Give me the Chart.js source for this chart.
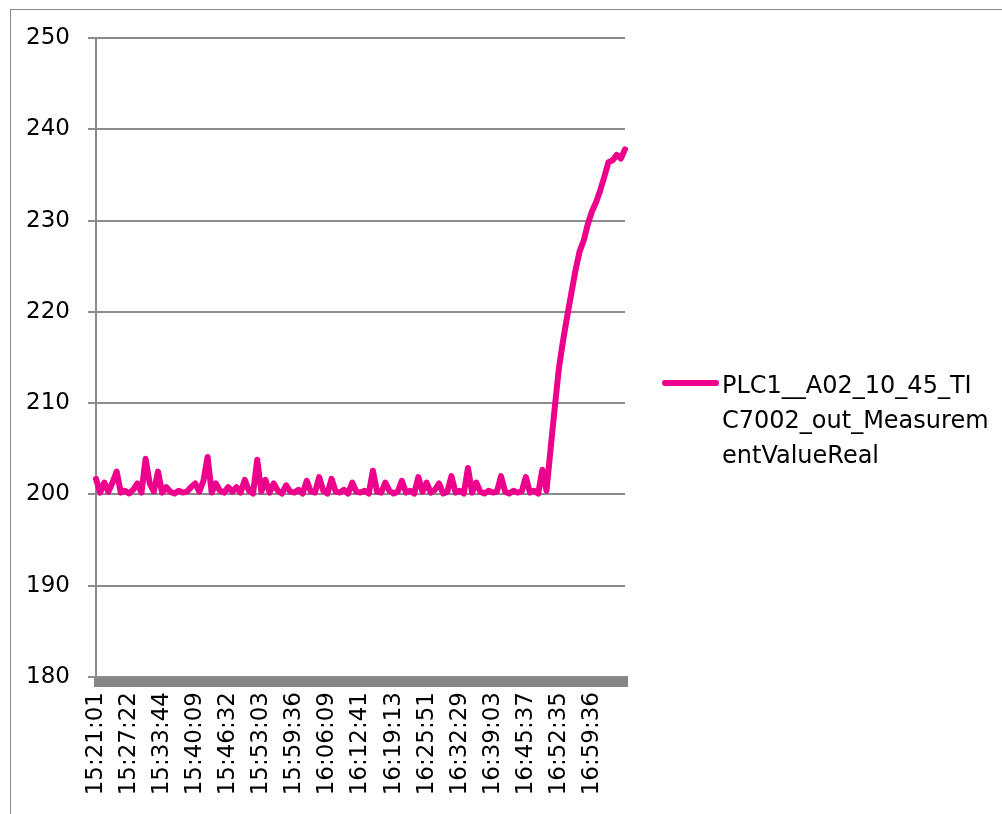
<!DOCTYPE html>
<html>
<head>
<meta charset="utf-8">
<script src="https://cdn.jsdelivr.net/npm/chart.js@4.4.1/dist/chart.umd.min.js"></script>
<style>
  html, body { margin: 0; padding: 0; background: #fff; overflow: hidden; }
  #frame { position: absolute; left: 10px; top: 9px; width: 1100px; height: 900px; border-left: 1px solid #8c8c8c; border-top: 1px solid #8c8c8c; }
  canvas { position: absolute; left: 0; top: 0; }
</style>
</head>
<body>
<div id="frame"></div>
<canvas id="tempChart" width="1002" height="814"></canvas>
<script>
// sample timestamps (one per category)
const times = [
    '15:21:01', '15:21:48', '15:22:36', '15:23:24', '15:24:11', '15:24:59', '15:25:47', '15:26:34',
    '15:27:22', '15:28:10', '15:28:58', '15:29:45', '15:30:33', '15:31:21', '15:32:08', '15:32:56',
    '15:33:44', '15:34:32', '15:35:20', '15:36:08', '15:36:56', '15:37:44', '15:38:32', '15:39:20',
    '15:40:09', '15:40:57', '15:41:45', '15:42:33', '15:43:20', '15:44:08', '15:44:56', '15:45:44',
    '15:46:32', '15:47:21', '15:48:10', '15:48:59', '15:49:48', '15:50:37', '15:51:26', '15:52:15',
    '15:53:03', '15:53:52', '15:54:41', '15:55:30', '15:56:19', '15:57:08', '15:57:57', '15:58:46',
    '15:59:36', '16:00:25', '16:01:14', '16:02:03', '16:02:52', '16:03:41', '16:04:30', '16:05:19',
    '16:06:09', '16:06:58', '16:07:47', '16:08:36', '16:09:25', '16:10:14', '16:11:03', '16:11:52',
    '16:12:41', '16:13:30', '16:14:19', '16:15:08', '16:15:57', '16:16:46', '16:17:35', '16:18:24',
    '16:19:13', '16:20:03', '16:20:53', '16:21:42', '16:22:32', '16:23:22', '16:24:11', '16:25:01',
    '16:25:51', '16:26:41', '16:27:31', '16:28:20', '16:29:10', '16:30:00', '16:30:49', '16:31:39',
    '16:32:29', '16:33:18', '16:34:07', '16:34:57', '16:35:46', '16:36:35', '16:37:25', '16:38:14',
    '16:39:03', '16:39:52', '16:40:41', '16:41:31', '16:42:20', '16:43:09', '16:43:59', '16:44:48',
    '16:45:37', '16:46:29', '16:47:21', '16:48:13', '16:49:06', '16:49:58', '16:50:50', '16:51:42',
    '16:52:35', '16:53:28', '16:54:20', '16:55:13', '16:56:05', '16:56:58', '16:57:50', '16:58:43',
    '16:59:36', '17:00:29', '17:01:22', '17:02:15', '17:03:08', '17:04:01', '17:04:54', '17:05:47',
    '17:06:40'
];

const tempValues = [
    201.7, 200.2, 201.3, 200.3, 201.3, 202.5, 200.2, 200.4, 200.1, 200.5,
    201.2, 200.2, 203.9, 201.2, 200.3, 202.5, 200.2, 200.8, 200.3, 200.1,
    200.4, 200.2, 200.3, 200.8, 201.2, 200.3, 201.5, 204.1, 200.2, 201.2,
    200.4, 200.2, 200.8, 200.3, 200.8, 200.2, 201.6, 200.4, 200.1, 203.8,
    200.3, 201.6, 200.2, 201.2, 200.4, 200.1, 201.0, 200.3, 200.2, 200.5,
    200.1, 201.5, 200.3, 200.2, 201.9, 200.4, 200.1, 201.7, 200.3, 200.2,
    200.5, 200.1, 201.3, 200.3, 200.2, 200.4, 200.1, 202.6, 200.3, 200.2,
    201.3, 200.4, 200.1, 200.3, 201.5, 200.2, 200.4, 200.1, 201.9, 200.3,
    201.3, 200.2, 200.5, 201.2, 200.1, 200.3, 202.0, 200.2, 200.4, 200.1,
    202.9, 200.2, 201.3, 200.3, 200.1, 200.4, 200.2, 200.3, 202.0, 200.3,
    200.1, 200.4, 200.2, 200.3, 201.9, 200.2, 200.4, 200.1, 202.7, 200.4,
    205.0, 209.5, 213.8, 216.8, 219.5, 222.0, 224.5, 226.6, 227.8, 229.6,
    231.0, 232.0, 233.3, 234.8, 236.4, 236.6, 237.2, 236.8, 237.8
];

const seriesName = 'PLC1__A02_10_45_TIC7002_out_MeasurementValueReal';
const yMin = 180;
const yMax = 250;
const yStep = 10;
const labelEvery = 8;
const labelCount = 16;   // the reference shows 16 time labels, the last one 16:59:36

const tickFont = { family: 'DejaVu Sans', size: 23 };
const gridGray = '#8c8c8c';

// legend on the right, wrapped over three lines like the original
const sideLegend = {
    id: 'sideLegend',
    afterDraw(chart) {
        const ctx = chart.ctx;
        const ds = chart.data.datasets[0];
        const lines = [ds.label.slice(0, 18), ds.label.slice(18, 36), ds.label.slice(36)];
        ctx.save();
        ctx.strokeStyle = ds.borderColor;
        ctx.lineWidth = 6;
        ctx.lineCap = 'round';
        ctx.beginPath();
        ctx.moveTo(665, 383);
        ctx.lineTo(716, 383);
        ctx.stroke();
        ctx.fillStyle = '#000';
        ctx.font = '24px "DejaVu Sans"';
        ctx.textBaseline = 'alphabetic';
        lines.forEach((t, k) => ctx.fillText(t, 722, 393 + k * 35));
        ctx.restore();
    }
};

const chartCtx = document.getElementById('tempChart').getContext('2d');

const tempChart = new Chart(chartCtx, {
    type: 'line',
    data: {
        labels: times,
        datasets: [{
            label: seriesName,
            data: tempValues,
            borderColor: '#EC008C',
            backgroundColor: '#EC008C',
            borderWidth: 6,
            borderCapStyle: 'round',
            borderJoinStyle: 'round',
            pointRadius: 0,
            tension: 0,
            fill: false
        }]
    },
    options: {
        responsive: false,
        animation: false,
        layout: {
            padding: { left: 0, top: 38, right: 377, bottom: 0 }
        },
        plugins: {
            legend: { display: false },
            tooltip: { enabled: false }
        },
        scales: {
            x: {
                grid: {
                    drawOnChartArea: false,
                    drawTicks: true,
                    tickLength: 10,
                    lineWidth: 5,
                    color: '#868686'
                },
                border: { display: true, color: gridGray, width: 2 },
                ticks: {
                    autoSkip: false,
                    minRotation: 90,
                    maxRotation: 90,
                    padding: 5,
                    color: '#000',
                    font: tickFont,
                    callback: (v, i) => (i % labelEvery === 0 && i / labelEvery < labelCount ? times[i] : '')
                },
                afterFit: (s) => { s.height = 137; }
            },
            y: {
                min: yMin,
                max: yMax,
                grid: { color: gridGray, lineWidth: 2, tickLength: 8 },
                border: { color: gridGray, width: 2 },
                ticks: {
                    stepSize: yStep,
                    padding: 18,
                    color: '#000',
                    font: tickFont
                },
                afterFit: (s) => { s.width = 96; }
            }
        }
    },
    plugins: [sideLegend]
});
</script>
</body>
</html>
